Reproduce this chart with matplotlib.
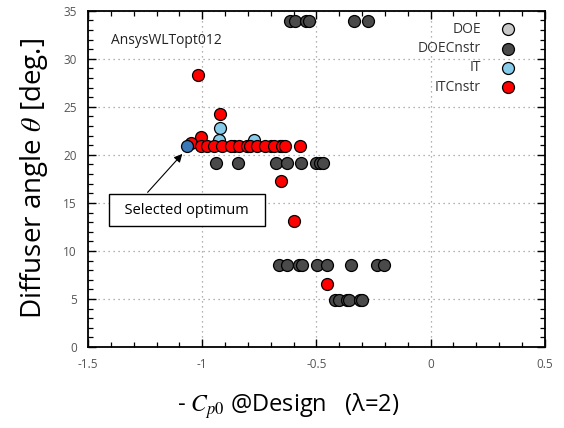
import matplotlib
matplotlib.use("Agg")
import matplotlib.pyplot as plt
from matplotlib.ticker import MultipleLocator

plt.rcParams['font.family'] = ['Open Sans', 'DejaVu Sans']
plt.rcParams['mathtext.fontset'] = 'stix'

# DOE samples (unconstrained) and constrained DOE samples
doe_x = []
doe_y = []
doecnstr_x = [-0.614, -0.595, -0.545, -0.534, -0.337, -0.276,
              -0.86, -0.80, -0.70, -0.66,
              -0.939, -0.843, -0.675, -0.628, -0.566, -0.501, -0.486, -0.471,
              -0.662, -0.628, -0.577, -0.563, -0.497, -0.453, -0.348, -0.234, -0.206,
              -0.417, -0.402, -0.366, -0.359, -0.311, -0.300]
doecnstr_y = [33.9, 33.9, 33.9, 33.9, 33.9, 33.9,
              20.9, 20.9, 20.9, 20.9,
              19.2, 19.2, 19.2, 19.2, 19.2, 19.2, 19.2, 19.2,
              8.5, 8.5, 8.5, 8.5, 8.5, 8.5, 8.5, 8.5, 8.5,
              4.9, 4.9, 4.9, 4.9, 4.9, 4.9]

# Optimisation iterations
it_x = [-0.923, -0.927, -0.774]
it_y = [22.8, 21.5, 21.5]
itcnstr_x = [-1.019, -0.923, -1.007, -1.050,
             -1.007, -0.978, -0.949, -0.913, -0.876, -0.840, -0.803, -0.789,
             -0.759, -0.723, -0.687, -0.650, -0.636, -0.570,
             -0.653, -0.596, -0.453]
itcnstr_y = [28.3, 24.3, 21.9, 21.2,
             20.9, 20.9, 20.9, 20.9, 20.9, 20.9, 20.9, 20.9,
             20.9, 20.9, 20.9, 20.9, 20.9, 20.9,
             17.3, 13.1, 6.6]

# Selected optimum
opt_x = -1.066
opt_y = 20.9

labels = ["DOE", "DOECnstr", "IT", "ITCnstr"]
colors = ["#c8c8c8", "#4a4a4a", "#87cbea", "#ff0000"]

fig = plt.figure(figsize=(5.64, 4.28), dpi=100)
ax = fig.add_axes([0.156, 0.189, 0.81, 0.786])

ms = 74
ek = dict(edgecolors="black", linewidths=0.9, zorder=3)
ax.scatter(doe_x, doe_y, s=ms, c=colors[0], label=labels[0], **ek)
ax.scatter(doecnstr_x, doecnstr_y, s=ms, c=colors[1], label=labels[1], **ek)
ax.scatter(it_x, it_y, s=ms, c=colors[2], label=labels[2], **ek)
ax.scatter(itcnstr_x, itcnstr_y, s=ms, c=colors[3], label=labels[3], **ek)
ax.scatter([opt_x], [opt_y], s=ms, c="#3a78b8", edgecolors="black",
           linewidths=0.9, zorder=4)

ax.set_xlim(-1.5, 0.5)
ax.set_ylim(0, 35)
ax.xaxis.set_major_locator(MultipleLocator(0.5))
ax.xaxis.set_minor_locator(MultipleLocator(0.1))
ax.yaxis.set_major_locator(MultipleLocator(5))
ax.yaxis.set_minor_locator(MultipleLocator(1))
ax.set_xticks([-1.5, -1, -0.5, 0, 0.5])
ax.set_xticklabels(["-1.5", "-1", "-0.5", "0", "0.5"])
ax.tick_params(which="both", direction="in", top=True, right=True,
               labelsize=8.5, labelcolor="#555555", pad=8)
ax.tick_params(which="major", length=6, width=1.0)
ax.tick_params(which="minor", length=3.5, width=0.9)
ax.grid(True, which="major", linestyle=(0, (1, 3)), color="#999999", linewidth=0.9)
for sp in ax.spines.values():
    sp.set_linewidth(1.3)

ax.set_ylabel(r"Diffuser angle $\theta$ [deg.]", fontsize=20)
ax.yaxis.set_label_coords(-0.083, 0.5)
ax.set_xlabel(r"- $C_{p0}$ @Design   (λ=2)", fontsize=17)
ax.xaxis.set_label_coords(0.439, -0.13)

ax.text(-1.40, 31.9, "AnsysWLTopt012", fontsize=10, color="#222222",
        va="center", ha="left")

leg = ax.legend(loc="upper right", bbox_to_anchor=(0.97, 0.995),
                frameon=False, markerfirst=False,
                fontsize=10, handletextpad=0.9, labelspacing=0.3,
                borderaxespad=0.3, scatterpoints=1)
for t in leg.get_texts():
    t.set_color("#333333")

# Callout box and arrow pointing at the chosen design
ax.text(-1.066, 14.25, "  Selected optimum  ", fontsize=10.5, ha="center",
        va="center", zorder=5,
        bbox=dict(boxstyle="square,pad=0.6", fc="white", ec="black", lw=1.0))
ax.annotate("", xy=(-1.087, 20.1), xytext=(-1.239, 16.1),
            arrowprops=dict(arrowstyle="-|>", color="black", lw=0.8,
                            shrinkA=0, shrinkB=0, mutation_scale=12),
            zorder=5)

fig.savefig("out.png", dpi=100)
